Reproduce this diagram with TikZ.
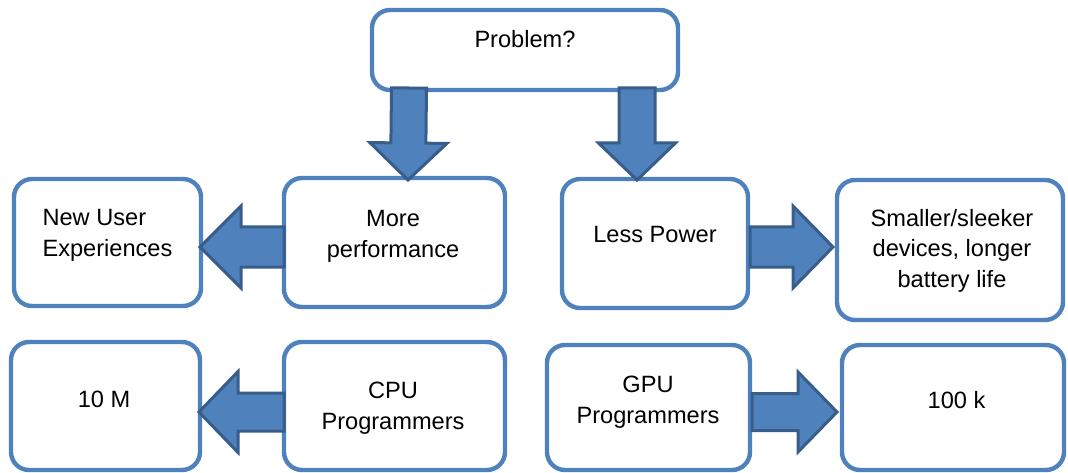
\documentclass[tikz,border=0pt]{standalone}
\usepackage{fontspec}
\setmainfont{Liberation Sans}
\usetikzlibrary{calc}
\definecolor{boxblue}{HTML}{4F81BD}
\definecolor{arrowedge}{HTML}{385D8A}
\tikzset{
  box/.style={draw=boxblue, line width=4.4pt, fill=white, rounded corners=18pt, inner sep=0pt},
  txt/.style={font=\fontsize{23.6}{30.5}\selectfont, inner sep=0pt, anchor=base, text=black},
  blockarr/.style={fill=boxblue, draw=arrowedge, line width=3pt, line join=miter},
}
% #1 start, #2 tip, #3 shaft half width, #4 head half width, #5 head length
\newcommand\blockarrow[5]{%
  \coordinate (#1h) at ($(#2)!#5!(#1)$);
  \draw[blockarr] ($(#1)!#3!90:(#2)$) -- ($(#1h)!#3!90:(#2)$) -- ($(#1h)!#4!90:(#2)$)
    -- (#2) -- ($(#1h)!#4!-90:(#2)$) -- ($(#1h)!#3!-90:(#2)$) -- ($(#1)!#3!-90:(#2)$) -- cycle;
}
\begin{document}
\begin{tikzpicture}[x=1pt, y=-1pt]
\useasboundingbox (0,0) rectangle (1068,473);
% boxes
\node[box, minimum width=306pt, minimum height=80pt] (prob) at (525,50) {};
\node[box, minimum width=187pt, minimum height=127pt] (nue) at (107.5,242.5) {};
\node[box, minimum width=221pt, minimum height=129pt] (mp) at (394.5,242.5) {};
\node[box, minimum width=186pt, minimum height=129pt] (lp) at (655,243.5) {};
\node[box, minimum width=226pt, minimum height=140pt] (sm) at (950,250) {};
\node[box, minimum width=189pt, minimum height=128pt] (tenm) at (105.5,406) {};
\node[box, minimum width=221pt, minimum height=128pt] (cpu) at (394.5,406) {};
\node[box, minimum width=203pt, minimum height=125pt] (gpu) at (648.5,407.5) {};
\node[box, minimum width=222pt, minimum height=125pt] (hk) at (953,407.5) {};
% texts (multi-line nodes: base = last line)
\node[txt] (probt) at (525,48) {Problem?};
\node[txt, align=left] (nuet) at (107.5,256) {New User\\Experiences};
\node[txt, align=center] (mpt) at (393,257) {More\\performance};
\node[txt] (lpt) at (655,243) {Less Power};
\node[txt, align=center] (smt) at (952,287) {Smaller/sleeker\\devices, longer\\battery life};
\node[txt] (tenmt) at (104,407) {10 M};
\node[txt, align=center] (cput) at (393,429) {CPU\\Programmers};
\node[txt, align=center] (gput) at (648,423) {GPU\\Programmers};
\node[txt] (hkt) at (956.5,408) {100 k};
% arrow end points
\coordinate (d1s) at (409,88);   \coordinate (d1t) at (408,180);
\coordinate (d2s) at (637,88);   \coordinate (d2t) at (637,180);
\coordinate (l1s) at (284,247);  \coordinate (l1t) at (200,247);
\coordinate (r1s) at (750,247);  \coordinate (r1t) at (833,247);
\coordinate (l2s) at (284,412);  \coordinate (l2t) at (199,412);
\coordinate (r2s) at (752,412);  \coordinate (r2t) at (837,412);
\blockarrow{d1s}{d1t}{17.5pt}{38.5pt}{37pt}
\blockarrow{d2s}{d2t}{18pt}{38.5pt}{37pt}
\blockarrow{l1s}{l1t}{20pt}{41pt}{41pt}
\blockarrow{r1s}{r1t}{20pt}{41pt}{40pt}
\blockarrow{l2s}{l2t}{19pt}{40.5pt}{39pt}
\blockarrow{r2s}{r2t}{18.5pt}{40pt}{39pt}
\end{tikzpicture}
\end{document}
